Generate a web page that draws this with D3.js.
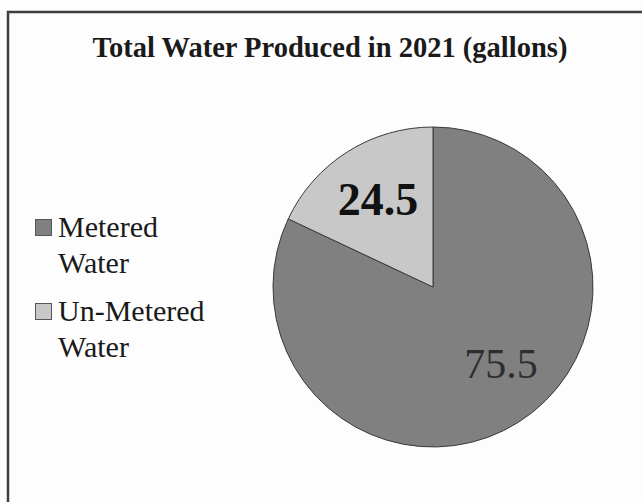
<!DOCTYPE html>
<html>
<head>
<meta charset="utf-8">
<script src="https://cdn.jsdelivr.net/npm/d3@7"></script>
<style>
  body { margin: 0; background: #fdfdfd; }
  text { font-family: "Liberation Serif", "Times New Roman", serif; }
</style>
</head>
<body>
<svg id="chart" width="642" height="502"></svg>
<script>
// data
const categories = ["Metered Water", "Un-Metered Water"]
const legendLines = [["Metered", "Water"], ["Un-Metered", "Water"]]
const shares = [82, 18]          // slice sizes as drawn (angle of the light slice ~65 deg)
const sliceLabels = ["75.5", "24.5"]
const colors = ["#808080", "#c8c8c8"]

const svg = d3.select("#chart")

// frame
svg.append("rect")
    .attr("x", 8).attr("y", 12)
    .attr("width", 660).attr("height", 520)
    .attr("fill", "#fdfdfd")
    .attr("stroke", "#3f3f3f")
    .attr("stroke-width", 2.5)

// title
svg.append("text")
    .attr("x", 330).attr("y", 57)
    .attr("text-anchor", "middle")
    .attr("font-size", 28.5)
    .attr("font-weight", "bold")
    .attr("fill", "#1a1a1a")
    .text("Total Water Produced in 2021 (gallons)")

//-------------------pie----------------------------------------
const cx = 433, cy = 287, rayon = 160

const pie = d3.pie().sort(null).value(d => d)
// metered goes clockwise from 12 o'clock, un-metered closes the circle
const arcs = pie(shares)
const arc = d3.arc().innerRadius(0).outerRadius(rayon)

const g = svg.append("g").attr("transform", "translate(" + cx + "," + cy + ")")

g.selectAll("path")
    .data(arcs)
    .enter()
    .append("path")
    .attr("d", arc)
    .attr("fill", (d, i) => colors[i])
    .attr("stroke", "#3a3a3a")
    .attr("stroke-width", 1)

// labels : position tweaked by hand as in the original
const labelStyle = [
    { size: 42, weight: "normal", fill: "#2e2e2e", dx: 68, dy: 91 },
    { size: 46, weight: "bold", fill: "#111111", dx: -55, dy: -72 }
]

g.selectAll("text.lab")
    .data(arcs)
    .enter()
    .append("text")
    .attr("class", "lab")
    .attr("transform", (d, i) => "translate(" + labelStyle[i].dx + "," + labelStyle[i].dy + ")")
    .attr("text-anchor", "middle")
    .attr("font-size", (d, i) => labelStyle[i].size)
    .attr("font-weight", (d, i) => labelStyle[i].weight)
    .attr("fill", (d, i) => labelStyle[i].fill)
    .text((d, i) => sliceLabels[i])

//-------------------legend----------------------------------------
const legend = svg.append("g")
const legendY = d3.scalePoint().domain(categories).range([237, 321])

categories.forEach(function (c, i) {
    var y = legendY(c)
    legend.append("rect")
        .attr("x", 35.5).attr("y", y - 17.5)
        .attr("width", 16).attr("height", 16)
        .attr("fill", colors[i])
        .attr("stroke", "#555")
        .attr("stroke-width", 1)
    var t = legend.append("text")
        .attr("x", 58).attr("y", y)
        .attr("font-size", 30)
        .attr("fill", "#1a1a1a")
    legendLines[i].forEach(function (line, k) {
        t.append("tspan")
            .attr("x", 58)
            .attr("dy", k == 0 ? 0 : 36)
            .text(line)
    })
})
</script>
</body>
</html>
